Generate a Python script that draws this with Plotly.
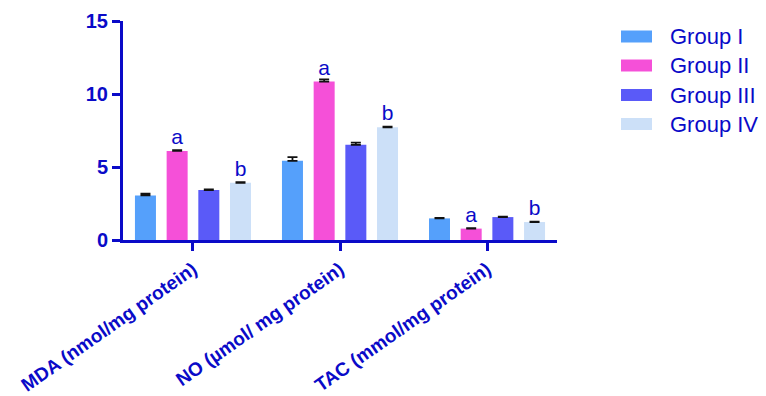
import plotly.graph_objects as go

categories = ["MDA (nmol/mg protein)", "NO (µmol/ mg protein)", "TAC (mmol/mg protein)"]
groups = ["Group I", "Group II", "Group III", "Group IV"]
values = {
    "Group I": [3.05, 5.42, 1.48],
    "Group II": [6.1, 10.85, 0.78],
    "Group III": [3.42, 6.52, 1.57],
    "Group IV": [3.92, 7.72, 1.23],
}
errors = {
    "Group I": [0.12, 0.25, 0.03],
    "Group II": [0.06, 0.15, 0.03],
    "Group III": [0.05, 0.15, 0.03],
    "Group IV": [0.05, 0.05, 0.03],
}
letters = {
    "Group I": ["", "", ""],
    "Group II": ["a", "a", "a"],
    "Group III": ["", "", ""],
    "Group IV": ["b", "b", "b"],
}
colors = {
    "Group I": "#55a0fb",
    "Group II": "#f550d8",
    "Group III": "#5a5af8",
    "Group IV": "#cce0f8",
}
BLUE = "#0a0ac8"
FONT = "Arial, Liberation Sans, sans-serif"

fig = go.Figure()
for g in groups:
    fig.add_trace(go.Bar(
        name=g, x=categories, y=values[g], marker_color=colors[g],
        marker_line_width=0,
        error_y=dict(type="data", array=errors[g], arrayminus=[0] * 3,
                     symmetric=False, color="#111111", thickness=1.8, width=5),
        text=letters[g], textposition="outside",
        textfont=dict(family=FONT, size=21, color=BLUE),
        cliponaxis=False, showlegend=False,
    ))

# custom legend with wide swatches
W, H = 766 - 123 - 209, 396 - 21 - 156
row_y = [36.5, 65.5, 95, 124]
for g, py in zip(groups, row_y):
    yp = (240 - py) / H
    fig.add_shape(type="rect", xref="paper", yref="paper",
                  x0=(621 - 123) / W, x1=(652 - 123) / W,
                  y0=yp - 6 / H, y1=yp + 6 / H,
                  fillcolor=colors[g], line_width=0)
    fig.add_annotation(xref="paper", yref="paper", x=(668 - 123) / W, y=yp,
                       text=g, showarrow=False, xanchor="left", yanchor="middle",
                       font=dict(family=FONT, size=22, color=BLUE))

fig.update_layout(
    width=766, height=396,
    margin=dict(l=123, r=209, t=21, b=156, autoexpand=False),
    paper_bgcolor="white", plot_bgcolor="white",
    barmode="group", bargap=0.138, bargroupgap=0.337,
    font=dict(family=FONT, color=BLUE),
    showlegend=False,
)
fig.update_yaxes(
    range=[0, 15], tickvals=[0, 5, 10, 15], showgrid=False, zeroline=False,
    showline=True, linecolor=BLUE, linewidth=3, automargin=False,
    ticks="outside", ticklen=8, tickwidth=3, tickcolor=BLUE,
    tickfont=dict(family=FONT, size=20, color=BLUE, weight="bold"),
)
fig.update_xaxes(
    range=[-0.476, 2.476], showgrid=False, zeroline=False,
    showline=True, linecolor=BLUE, linewidth=3, automargin=False,
    ticks="outside", ticklen=8, tickwidth=3, tickcolor=BLUE,
    tickangle=-35,
    tickfont=dict(family=FONT, size=19, color=BLUE, weight="bold"),
)

fig.write_html("out.html")
